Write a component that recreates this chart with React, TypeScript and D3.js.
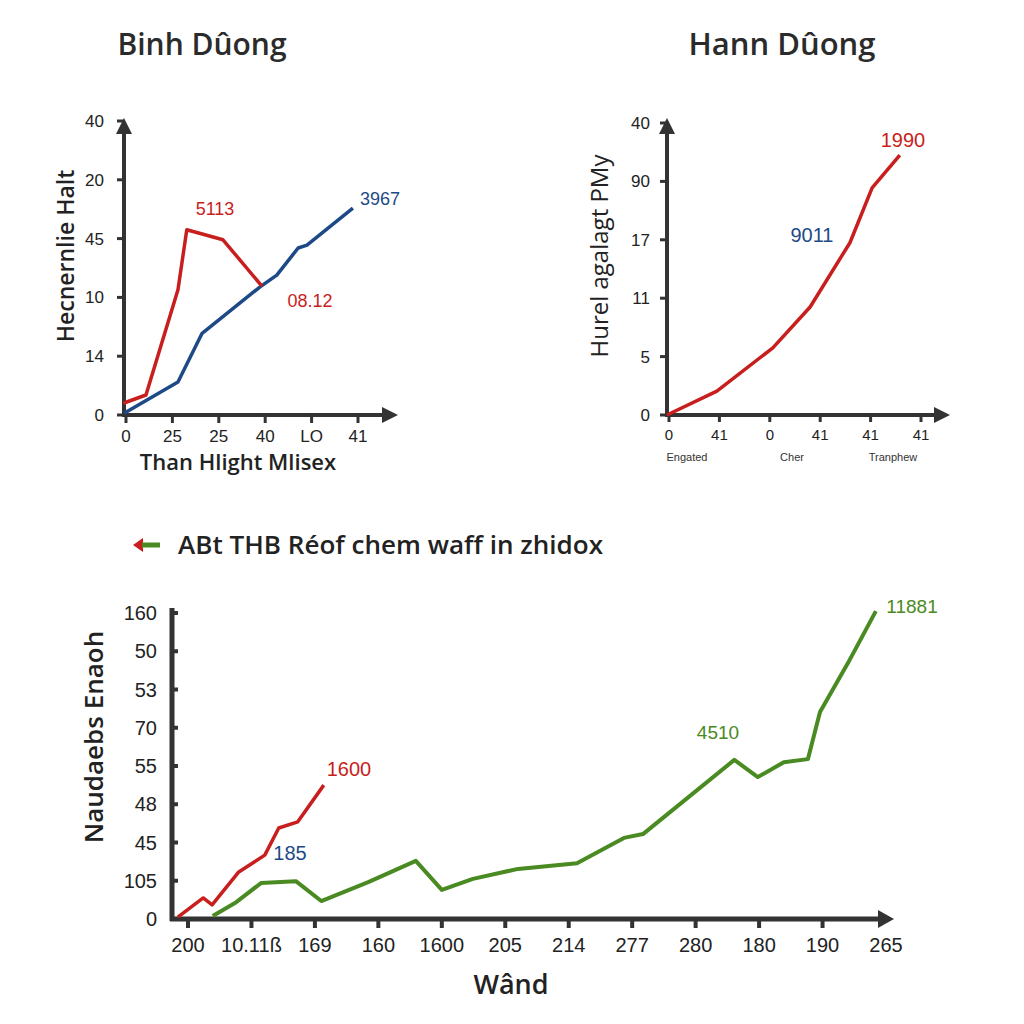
import React from "react";
import * as d3 from "d3";

// ---------- Chart 1 (Binh Dûong) ----------
const c1YLabels = ["0", "14", "10", "45", "20", "40"];
const c1XLabels = ["0", "25", "25", "40", "LO", "41"];
const c1Red: [number, number][] = [
  [-0.06, 0.2], [0.43, 0.34], [1.12, 2.13], [1.31, 3.15], [2.09, 2.98], [2.93, 2.19],
];
const c1Blue: [number, number][] = [
  [-0.04, 0.03], [1.12, 0.56], [1.64, 1.39], [2.89, 2.18], [3.25, 2.38], [3.71, 2.84], [3.9, 2.89], [4.89, 3.52],
];

// ---------- Chart 2 (Hann Dûong) ----------
const c2YLabels = ["0", "5", "11", "17", "90", "40"];
const c2XLabels = ["0", "41", "0", "41", "41", "41"];
const c2SubLabels = ["Engated", "Cher", "Tranphew"];
const c2Red: [number, number][] = [
  [-0.04, 0], [0.95, 0.41], [2.06, 1.15], [2.8, 1.85], [3.59, 2.95], [4.03, 3.89], [4.58, 4.45],
];

// ---------- Chart 3 (bottom) ----------
const c3YLabels = ["0", "105", "45", "48", "55", "70", "53", "50", "160"];
const c3XLabels = ["200", "10.11ß", "169", "160", "1600", "205", "214", "277", "280", "180", "190", "265"];
const c3Red: [number, number][] = [
  [-0.16, 0.05], [0.24, 0.55], [0.38, 0.37], [0.8, 1.23], [1.21, 1.67], [1.43, 2.38], [1.73, 2.54], [2.14, 3.5],
];
const c3Green: [number, number][] = [
  [0.39, 0.08], [0.76, 0.44], [1.15, 0.94], [1.7, 0.99], [2.1, 0.47], [2.85, 0.97], [3.59, 1.52], [4.0, 0.76],
  [4.49, 1.05], [5.2, 1.31], [6.13, 1.46], [6.87, 2.12], [7.17, 2.22], [8.61, 4.16], [8.98, 3.71], [9.39, 4.1],
  [9.77, 4.18], [9.96, 5.41], [10.4, 6.69], [10.84, 8.05],
];

const RED = "#c81e1e";
const BLUE = "#1d4a86";
const GREEN = "#4a8a22";
const AXIS = "#333333";
const FONT = "'Liberation Sans', Arial, sans-serif";
const TFONT = "'Open Sans', 'Noto Sans', sans-serif";

const upArrow = (x: number, y: number, w = 8, h = 16) =>
  `M${x},${y} L${x + w},${y + h} L${x - w},${y + h} Z`;
const rightArrow = (x: number, y: number, w = 8, h = 16) =>
  `M${x},${y} L${x - h},${y - w} L${x - h},${y + w} Z`;

export default function App() {
  const x1 = d3.scaleLinear().domain([0, 5]).range([126, 358]);
  const y1 = d3.scaleLinear().domain([0, 5]).range([415, 121]);
  const line1 = d3.line<[number, number]>().x((d) => x1(d[0])).y((d) => y1(d[1]));

  const x2 = d3.scaleLinear().domain([0, 5]).range([669, 921]);
  const y2 = d3.scaleLinear().domain([0, 5]).range([415, 123]);
  const line2 = d3.line<[number, number]>().x((d) => x2(d[0])).y((d) => y2(d[1]));

  const x3 = d3.scaleLinear().domain([0, 11]).range([188, 886]);
  const y3 = d3.scaleLinear().domain([0, 8]).range([919, 613]);
  const line3 = d3.line<[number, number]>().x((d) => x3(d[0])).y((d) => y3(d[1]));

  return (
    <svg width={1024} height={1024} style={{ position: "absolute", left: 0, top: 0, background: "#fff" }} fontFamily={FONT}>
      <rect width={1024} height={1024} fill="#ffffff" />

      {/* ===== Chart 1 ===== */}
      <text x={202} y={55} textAnchor="middle" fontSize={30} fontWeight={600} fontFamily={TFONT} fill="#2b2b2b">Binh Dûong</text>
      <line x1={124} y1={417} x2={124} y2={130} stroke={AXIS} strokeWidth={4} />
      <path d={upArrow(124, 118)} fill={AXIS} />
      <line x1={122} y1={415} x2={386} y2={415} stroke={AXIS} strokeWidth={4} />
      <path d={rightArrow(398, 415)} fill={AXIS} />
      {c1YLabels.map((l, i) => (
        <g key={"y1" + i}>
          <line x1={117} x2={124} y1={y1(i)} y2={y1(i)} stroke={AXIS} strokeWidth={3} />
          <text x={104} y={y1(i) + 6} textAnchor="end" fontSize={17} fill="#222">{l}</text>
        </g>
      ))}
      {c1XLabels.map((l, i) => (
        <g key={"x1" + i}>
          <line x1={x1(i)} x2={x1(i)} y1={415} y2={423} stroke={AXIS} strokeWidth={3} />
          <text x={x1(i)} y={442} textAnchor="middle" fontSize={17} fill="#222">{l}</text>
        </g>
      ))}
      <text x={238} y={470} textAnchor="middle" fontSize={22} fontWeight={600} fontFamily={TFONT} fill="#222">Than Hlight Mlisex</text>
      <text transform="translate(74,256) rotate(-90)" textAnchor="middle" fontSize={23} fontWeight={600} fontFamily={TFONT} fill="#222">Hecnernlie Halt</text>
      <path d={line1(c1Blue) || ""} fill="none" stroke={BLUE} strokeWidth={3.5} strokeLinejoin="round" />
      <path d={line1(c1Red) || ""} fill="none" stroke={RED} strokeWidth={3.5} strokeLinejoin="round" />
      <text x={215} y={215} textAnchor="middle" fontSize={18} fill={RED}>5113</text>
      <text x={310} y={307} textAnchor="middle" fontSize={18} fill={RED}>08.12</text>
      <text x={380} y={205} textAnchor="middle" fontSize={18} fill={BLUE}>3967</text>

      {/* ===== Chart 2 ===== */}
      <text x={782} y={55} textAnchor="middle" fontSize={31} fontWeight={600} fontFamily={TFONT} fill="#2b2b2b">Hann Dûong</text>
      <line x1={667} y1={417} x2={667} y2={130} stroke={AXIS} strokeWidth={4} />
      <path d={upArrow(667, 118)} fill={AXIS} />
      <line x1={665} y1={415} x2={938} y2={415} stroke={AXIS} strokeWidth={4} />
      <path d={rightArrow(950, 415)} fill={AXIS} />
      {c2YLabels.map((l, i) => (
        <g key={"y2" + i}>
          <line x1={660} x2={667} y1={y2(i)} y2={y2(i)} stroke={AXIS} strokeWidth={3} />
          <text x={650} y={y2(i) + 6} textAnchor="end" fontSize={17} fill="#222">{l}</text>
        </g>
      ))}
      {c2XLabels.map((l, i) => (
        <g key={"x2" + i}>
          <line x1={x2(i)} x2={x2(i)} y1={415} y2={422} stroke={AXIS} strokeWidth={3} />
          <text x={x2(i)} y={440} textAnchor="middle" fontSize={15} fill="#222">{l}</text>
        </g>
      ))}
      {c2SubLabels.map((l, i) => (
        <text key={"s2" + i} x={[687, 792, 893][i]} y={461} textAnchor="middle" fontSize={11} fill="#333">{l}</text>
      ))}
      <text transform="translate(608,256) rotate(-90)" textAnchor="middle" fontSize={24} fontFamily={TFONT} fill="#222">Hurel agalagt PMy</text>
      <path d={line2(c2Red) || ""} fill="none" stroke={RED} strokeWidth={3.5} strokeLinejoin="round" />
      <text x={903} y={147} textAnchor="middle" fontSize={20} fill={RED}>1990</text>
      <text x={812} y={242} textAnchor="middle" fontSize={20} fill={BLUE}>9011</text>

      {/* ===== Chart 3 ===== */}
      <path d="M133,545 L143,538 L143,552 Z" fill={RED} />
      <line x1={142} y1={545} x2={160} y2={545} stroke={GREEN} strokeWidth={5} />
      <text x={178} y={554} fontSize={25} fontWeight={600} fontFamily={TFONT} fill="#222" textLength={425} lengthAdjust="spacingAndGlyphs">ABt THB Réof chem waff in zhidox</text>

      <line x1={172} y1={921} x2={172} y2={608} stroke={AXIS} strokeWidth={5} />
      <line x1={170} y1={919} x2={880} y2={919} stroke={AXIS} strokeWidth={5} />
      <path d={rightArrow(894, 919, 9, 16)} fill={AXIS} />
      {c3YLabels.map((l, i) => (
        <g key={"y3" + i}>
          <line x1={172} x2={178} y1={y3(i)} y2={y3(i)} stroke={AXIS} strokeWidth={4} />
          <text x={157} y={y3(i) + 7} textAnchor="end" fontSize={20} fill="#222">{l}</text>
        </g>
      ))}
      {c3XLabels.map((l, i) => (
        <g key={"x3" + i}>
          {i < c3XLabels.length - 1 && (
            <line x1={x3(i)} x2={x3(i)} y1={919} y2={928} stroke={AXIS} strokeWidth={4} />
          )}
          <text x={x3(i)} y={952} textAnchor="middle" fontSize={20} fill="#222">{l}</text>
        </g>
      ))}
      <text x={511} y={994} textAnchor="middle" fontSize={27} fontWeight={600} fontFamily={TFONT} fill="#222">Wând</text>
      <text transform="translate(103,737) rotate(-90)" textAnchor="middle" fontSize={26} fontWeight={600} fontFamily={TFONT} fill="#222">Naudaebs Enaoh</text>
      <path d={line3(c3Green) || ""} fill="none" stroke={GREEN} strokeWidth={4} strokeLinejoin="round" />
      <path d={line3(c3Red) || ""} fill="none" stroke={RED} strokeWidth={3.5} strokeLinejoin="round" />
      <text x={349} y={776} textAnchor="middle" fontSize={20} fill={RED}>1600</text>
      <text x={290} y={860} textAnchor="middle" fontSize={20} fill={BLUE}>185</text>
      <text x={718} y={739} textAnchor="middle" fontSize={19} fill={GREEN}>4510</text>
      <text x={912} y={613} textAnchor="middle" fontSize={19} fill={GREEN}>11881</text>
    </svg>
  );
}
